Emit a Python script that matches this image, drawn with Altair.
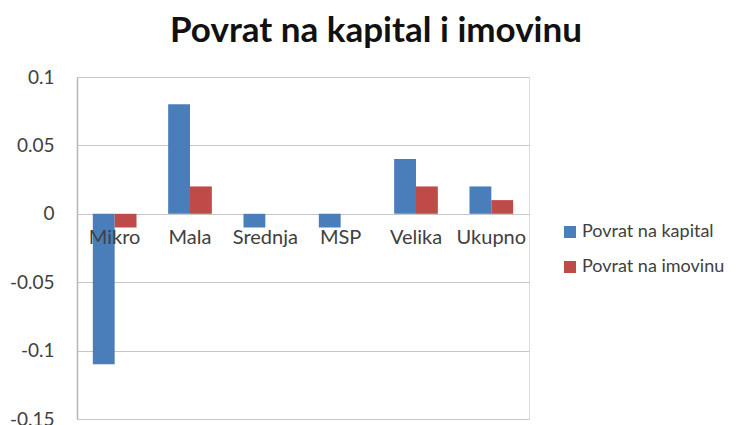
import altair as alt
import pandas as pd

categories = ["Mikro", "Mala", "Srednja", "MSP", "Velika", "Ukupno"]
series_names = ["Povrat na kapital", "Povrat na imovinu"]
kapital = [-0.11, 0.08, -0.01, -0.01, 0.04, 0.02]
imovina = [-0.01, 0.02, 0.0, 0.0, 0.02, 0.01]
y_ticks = [-0.15, -0.1, -0.05, 0, 0.05, 0.1]
colors = ["#4a7ebb", "#be4b48"]

rows = []
for c, k, i in zip(categories, kapital, imovina):
    rows.append({"cat": c, "series": series_names[0], "value": k})
    rows.append({"cat": c, "series": series_names[1], "value": i})
df = pd.DataFrame(rows)
labels_df = pd.DataFrame({"cat": categories, "zero": [0] * len(categories)})

FONT = "Lato"

x_scale = alt.Scale(domain=categories, paddingInner=0.42, paddingOuter=0.21)
y_scale = alt.Scale(domain=[-0.15, 0.1], nice=False, zero=False)

bars = alt.Chart(df).mark_bar().encode(
    x=alt.X("cat:N", scale=x_scale, axis=None, sort=categories),
    xOffset=alt.XOffset("series:N", sort=series_names),
    y=alt.Y("value:Q", scale=y_scale,
            axis=alt.Axis(values=y_ticks, title=None, labelExpr="'' + datum.value",
                          grid=True, gridColor="#c6c6c6", gridWidth=1.2,
                          domainColor="#b8b8b8", domainWidth=1.5, ticks=False,
                          labelFont=FONT, labelFontSize=19, labelColor="#404040",
                          labelPadding=23)),
    color=alt.Color("series:N", sort=series_names,
                    scale=alt.Scale(domain=series_names, range=colors),
                    legend=alt.Legend(title=None, orient="none", legendX=484, legendY=146,
                                      symbolType="square", symbolSize=144,
                                      symbolStrokeWidth=0, labelFont=FONT,
                                      labelFontSize=18, labelColor="#404040",
                                      rowPadding=17, labelOffset=3)),
)

texts = alt.Chart(labels_df).mark_text(
    baseline="top", dy=14, font=FONT, fontSize=20, color="#404040"
).encode(
    x=alt.X("cat:N", scale=x_scale, sort=categories),
    y=alt.Y("zero:Q", scale=y_scale),
    text="cat:N",
)

chart = alt.layer(bars, texts).properties(
    width=452,
    height=342,
    title=alt.TitleParams("Povrat na kapital i imovinu", font=FONT, fontSize=35,
                          fontWeight="bold", color="#111111", offset=19, dx=73),
    autosize=alt.AutoSizeParams(type="none"),
    padding={"left": 69, "top": 69, "right": 202, "bottom": 6},
).configure_view(stroke=None).configure(background="white")

chart.save("out.html", embed_options={"renderer": "svg", "actions": False})
